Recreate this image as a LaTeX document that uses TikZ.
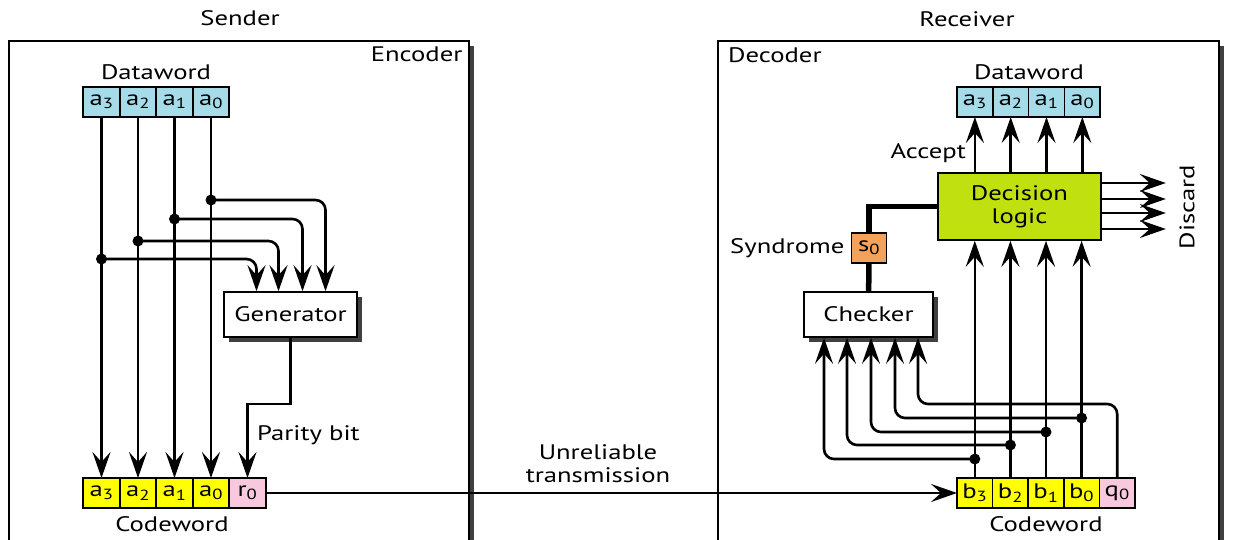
\documentclass[tikz,border=0pt]{standalone}
\usepackage{fontspec}
\setmainfont{PT Sans}[FakeStretch=1.27]
\usetikzlibrary{arrows.meta,positioning,shadows}
\definecolor{dwblue}{HTML}{A6DCE9}
\definecolor{cwyellow}{HTML}{FFFF00}
\definecolor{cwpink}{HTML}{F8C8DE}
\definecolor{synorange}{HTML}{F4A15A}
\definecolor{logiclime}{HTML}{C0E010}
\newcommand{\bit}[2]{#1\textsubscript{#2}}

\begin{document}
\begin{tikzpicture}[
  x=1pt,y=-1pt,
  font=\fontsize{21}{23}\selectfont,
  cell/.style={draw,line width=1.6pt,minimum width=36.5pt,minimum height=30pt,inner sep=0pt,outer sep=0pt},
  dword/.style={cell,fill=dwblue},
  cword/.style={cell,fill=cwyellow},
  pword/.style={cell,fill=cwpink},
  frame/.style={draw,line width=1.6pt,fill=white,inner sep=0pt,anchor=north west,
    drop shadow={shadow xshift=5pt,shadow yshift=-5pt,fill=black!75,opacity=1}},
  unit/.style={draw,line width=1.6pt,fill=white,minimum height=45pt,inner sep=0pt,
    drop shadow={shadow xshift=5pt,shadow yshift=-5pt,fill=black!75,opacity=1}},
  arr/.style={line width=2.6pt,-{Stealth[length=26pt,width=18pt,inset=10pt]}},
  dot/.style={circle,fill,inner sep=0pt,minimum size=11pt},
  ann/.style={inner sep=0pt}
]
\useasboundingbox (0,0) rectangle (1233,540);

% frames
\node[frame,minimum width=460pt,minimum height=530pt] (encbox) at (8,40) {};
\node[frame,minimum width=501pt,minimum height=530pt] (decbox) at (717,40) {};
\node[ann] (sender) at (240,18) {Sender};
\node[ann] (receiver) at (967,19) {Receiver};
\node[ann,anchor=north east] (enclab) at ([shift={(-7pt,-7pt)}]encbox.north east) {Encoder};
\node[ann,anchor=north west] (declab) at ([shift={(11pt,-7pt)}]decbox.north west) {Decoder};

% sender side
\node[dword] (ea3) at (101.5,102) {\bit{a}{3}};
\node[dword,right=0pt of ea3] (ea2) {\bit{a}{2}};
\node[dword,right=0pt of ea2] (ea1) {\bit{a}{1}};
\node[dword,right=0pt of ea1] (ea0) {\bit{a}{0}};
\node[ann] (edw) at (156,72) {Dataword};

\node[cword] (ca3) at (101.5,493) {\bit{a}{3}};
\node[cword,right=0pt of ca3] (ca2) {\bit{a}{2}};
\node[cword,right=0pt of ca2] (ca1) {\bit{a}{1}};
\node[cword,right=0pt of ca1] (ca0) {\bit{a}{0}};
\node[pword,right=0pt of ca0] (cr0) {\bit{r}{0}};
\node[ann] (ecw) at (172,524) {Codeword};

\node[unit,minimum width=133pt] (gen) at (290.5,314.5) {Generator};

\foreach \b in {3,2,1,0}
  \draw[arr] (ea\b) -- (ca\b);

\node[dot] (ed3) at (ea3 |- 0,259) {};
\node[dot] (ed2) at (ea2 |- 0,241) {};
\node[dot] (ed1) at (ea1 |- 0,219) {};
\node[dot] (ed0) at (ea0 |- 0,200) {};
\draw[arr,rounded corners=10pt] (ed3.center) -| ([xshift=-34pt]gen.north);
\draw[arr,rounded corners=10pt] (ed2.center) -| ([xshift=-12pt]gen.north);
\draw[arr,rounded corners=10pt] (ed1.center) -| ([xshift=12pt]gen.north);
\draw[arr,rounded corners=10pt] (ed0.center) -| ([xshift=35pt]gen.north);

\draw[arr] (gen.south) -- ++(0,66) -| (cr0);
\node[ann,anchor=west] (par) at (257,435) {Parity bit};

% channel
\node[ann,align=center] (chan) at (598,464) {Unreliable\\transmission};

% receiver side
\node[cword,minimum width=35.6pt] (db3) at (974.8,493) {\bit{b}{3}};
\node[cword,minimum width=35.6pt,right=0pt of db3] (db2) {\bit{b}{2}};
\node[cword,minimum width=35.6pt,right=0pt of db2] (db1) {\bit{b}{1}};
\node[cword,minimum width=35.6pt,right=0pt of db1] (db0) {\bit{b}{0}};
\node[pword,minimum width=35.6pt,right=0pt of db0] (dq0) {\bit{q}{0}};
\node[ann] (dcw) at (1046,524) {Codeword};

\draw[arr] (cr0) -- (db3);

\node[dword,minimum width=35.8pt] (da3) at (974.9,102) {\bit{a}{3}};
\node[dword,minimum width=35.8pt,right=0pt of da3] (da2) {\bit{a}{2}};
\node[dword,minimum width=35.8pt,right=0pt of da2] (da1) {\bit{a}{1}};
\node[dword,minimum width=35.8pt,right=0pt of da1] (da0) {\bit{a}{0}};
\node[ann] (ddw) at (1029,72) {Dataword};

\node[draw,line width=1.6pt,fill=logiclime,minimum width=163pt,minimum height=67pt,align=center,inner sep=0pt]
  (logic) at (1019.5,206.5) {Decision\\logic};
\node[unit,minimum width=129pt] (chk) at (868.5,314.5) {Checker};
\node[cell,fill=synorange,minimum width=35pt] (s0) at (869,248) {\bit{s}{0}};
\node[ann,left=7pt of s0] (synlab) {Syndrome};

\foreach \b in {3,2,1,0} {
  \draw[arr] (db\b) -- (db\b |- logic.south);
  \draw[arr] (da\b |- logic.north) -- (da\b);
}
\node[ann,anchor=east] (acc) at (966,153) {Accept};

\foreach \y in {183,199,213,229}
  \draw[arr] (logic.east |- 0,\y) -- ++(64,0);
\node[ann,rotate=90] (disc) at (1187,207) {Discard};

\draw[line width=5.5pt] (logic.west) -| (s0.north);
\draw[line width=5.5pt] (s0) -- (chk);

\node[dot] (dd3) at (db3 |- 0,459) {};
\node[dot] (dd2) at (db2 |- 0,445) {};
\node[dot] (dd1) at (db1 |- 0,432) {};
\node[dot] (dd0) at (db0 |- 0,418) {};
\draw[arr,rounded corners=10pt] (dd3.center) -| ([xshift=-44.5pt]chk.south);
\draw[arr,rounded corners=10pt] (dd2.center) -| ([xshift=-21.5pt]chk.south);
\draw[arr,rounded corners=10pt] (dd1.center) -| ([xshift=2.5pt]chk.south);
\draw[arr,rounded corners=10pt] (dd0.center) -| ([xshift=26.5pt]chk.south);
\draw[arr,rounded corners=10pt] (dq0.north) -- ++(0,-74) -| ([xshift=49.5pt]chk.south);
\end{tikzpicture}
\end{document}
